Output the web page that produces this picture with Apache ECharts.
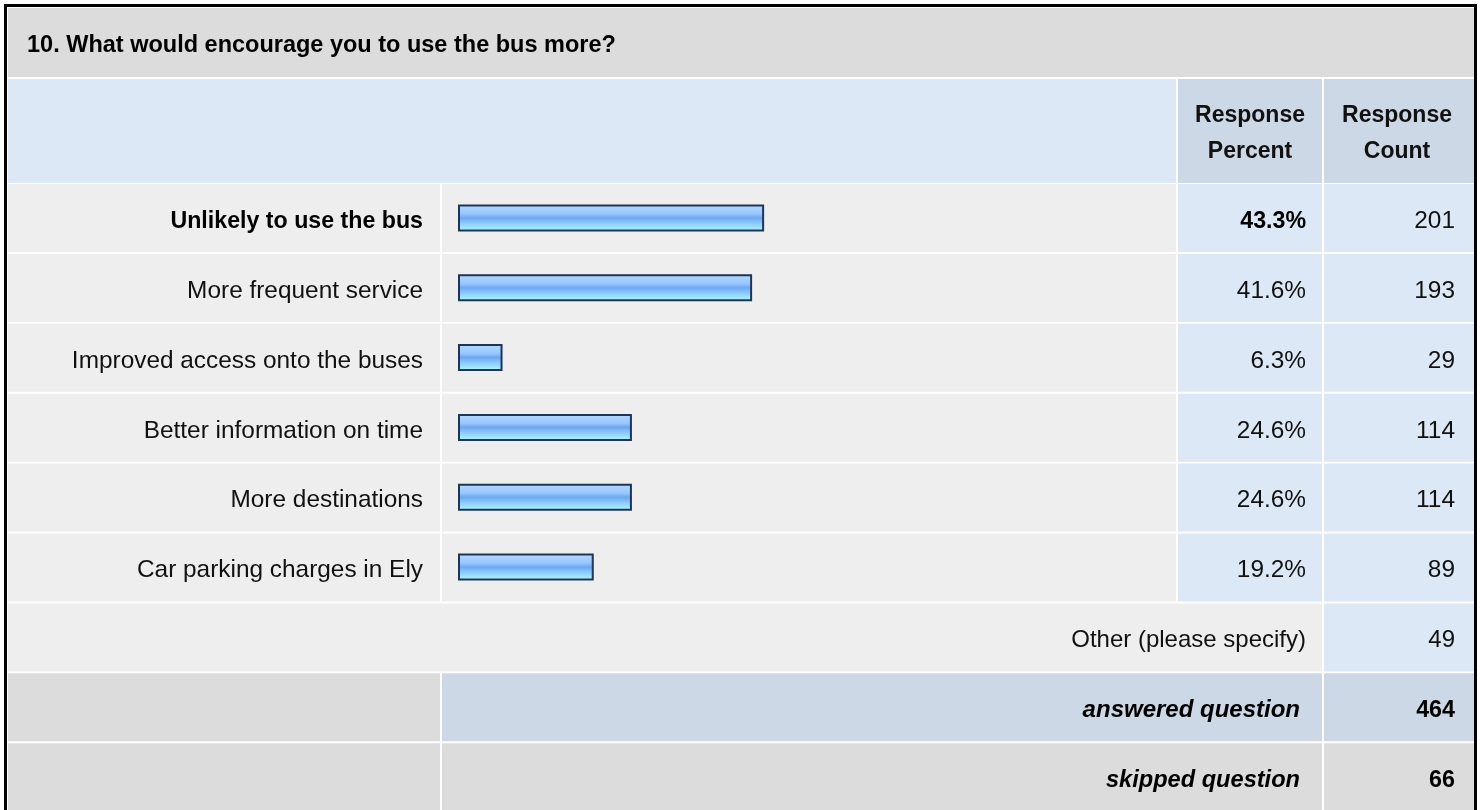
<!DOCTYPE html>
<html>
<head>
<meta charset="utf-8">
<title>10. What would encourage you to use the bus more?</title>
<script src="https://cdn.jsdelivr.net/npm/echarts@6/dist/echarts.min.js"></script>
<style>
  html, body { margin: 0; padding: 0; background: #fff; }
  #chart { width: 1480px; height: 810px; }
</style>
</head>
<body>
<div id="chart"></div>
<script>
// survey data
const question = '10. What would encourage you to use the bus more?';
const categories = [
  'Unlikely to use the bus',
  'More frequent service',
  'Improved access onto the buses',
  'Better information on time',
  'More destinations',
  'Car parking charges in Ely'
];
const percents = [43.3, 41.6, 6.3, 24.6, 24.6, 19.2];
const counts = [201, 193, 29, 114, 114, 89];
const headerCols = ['Response\nPercent', 'Response\nCount'];
const footerLabels = ['Other (please specify)', 'answered question', 'skipped question'];
const footerCounts = [49, 464, 66];

const FONT = 'Liberation Sans, Arial, sans-serif';

// table layout (cell backgrounds only)
const colX = [8, 442, 1178, 1324];
const colR = [440, 1176, 1322, 1474];
const rowTop = i => 184 + i * 69.9;
const rowH = 68;

function rect(x, y, w, h, fill) {
  return { type: 'rect', shape: { x: x, y: y, width: w, height: h }, style: { fill: fill }, z: -10, silent: true };
}
function text(str, x, y, align, opts) {
  return {
    type: 'text', x: x, y: y, z: 10, silent: true,
    style: Object.assign({
      text: str, align: align, verticalAlign: 'middle',
      font: '24px ' + FONT, fill: '#111'
    }, opts || {})
  };
}

const cells = [];
// title + header
cells.push(rect(8, 8, 1466, 69, '#dcdcdc'));
cells.push(rect(8, 79, 1168, 104, '#dce8f5'));
cells.push(rect(colX[2], 79, colR[2] - colX[2], 104, '#ccd8e5'));
cells.push(rect(colX[3], 79, colR[3] - colX[3], 104, '#ccd8e5'));
// data rows
categories.forEach((c, i) => {
  const y = rowTop(i);
  cells.push(rect(colX[0], y, colR[0] - colX[0], rowH, '#eeeeee'));
  cells.push(rect(colX[1], y, colR[1] - colX[1], rowH, '#eeeeee'));
  cells.push(rect(colX[2], y, colR[2] - colX[2], rowH, '#dce8f5'));
  cells.push(rect(colX[3], y, colR[3] - colX[3], rowH, '#dce8f5'));
});
// other row
let y6 = rowTop(6);
cells.push(rect(colX[0], y6, colR[2] - colX[0], rowH, '#eeeeee'));
cells.push(rect(colX[3], y6, colR[3] - colX[3], rowH, '#dce8f5'));
// answered
let y7 = rowTop(7);
cells.push(rect(colX[0], y7, colR[0] - colX[0], rowH, '#dcdcdc'));
cells.push(rect(colX[1], y7, colR[2] - colX[1], rowH, '#ccd8e5'));
cells.push(rect(colX[3], y7, colR[3] - colX[3], rowH, '#ccd8e5'));
// skipped
let y8 = rowTop(8);
cells.push(rect(colX[0], y8, colR[0] - colX[0], rowH + 10, '#dcdcdc'));
cells.push(rect(colX[1], y8, colR[2] - colX[1], rowH + 10, '#dcdcdc'));
cells.push(rect(colX[3], y8, colR[3] - colX[3], rowH + 10, '#dcdcdc'));
// outer frame
cells.push({ type: 'rect', shape: { x: 5.5, y: 5.5, width: 1470, height: 820 }, style: { fill: 'none', stroke: '#000', lineWidth: 3 }, z: 20, silent: true });

// texts
cells.push(text(question, 27, 46, 'left', { font: 'bold 23.5px ' + FONT, fill: '#000' }));
cells.push(text(headerCols[0], 1250, 134, 'center', { font: 'bold 23px ' + FONT, fill: '#111', lineHeight: 36 }));
cells.push(text(headerCols[1], 1397, 134, 'center', { font: 'bold 23px ' + FONT, fill: '#111', lineHeight: 36 }));
cells.push(text(footerLabels[0], 1306, y6 + 37, 'right'));
cells.push(text(String(footerCounts[0]), 1455, y6 + 37, 'right'));
cells.push(text(footerLabels[1], 1300, y7 + 37, 'right', { font: 'italic bold 24px ' + FONT, fill: '#000' }));
cells.push(text(String(footerCounts[1]), 1455, y7 + 37, 'right', { font: 'bold 23.3px ' + FONT, fill: '#000' }));
cells.push(text(footerLabels[2], 1300, y8 + 37, 'right', { font: 'italic bold 23.6px ' + FONT, fill: '#000' }));
cells.push(text(String(footerCounts[2]), 1455, y8 + 37, 'right', { font: 'bold 23.3px ' + FONT, fill: '#000' }));

const labelRich = {
  b: { fontFamily: FONT, fontSize: 23.2, fontWeight: 'bold', color: '#000', padding: [7, 0, 0, 0] },
  n: { fontFamily: FONT, fontSize: 24.4, color: '#111', padding: [7, 0, 0, 0] }
};
const pick = (str, i) => (i === 0 ? '{b|' : '{n|') + str + '}';

const option = {
  animation: false,
  backgroundColor: '#fff',
  graphic: { elements: cells },
  grid: { left: 458, top: 183, width: 707, height: 419, containLabel: false },
  xAxis: {
    type: 'value', min: 0, max: 100, show: false
  },
  yAxis: [
    {
      type: 'category', data: categories, inverse: true,
      axisLine: { show: false }, axisTick: { show: false },
      axisLabel: { margin: 35, formatter: (v, i) => pick(v, i), rich: labelRich }
    },
    {
      type: 'category', data: categories, inverse: true, position: 'right', offset: 141,
      axisLine: { show: false }, axisTick: { show: false },
      axisLabel: { margin: 0, align: 'right', formatter: (v, i) => pick(percents[i].toFixed(1) + '%', i), rich: labelRich }
    },
    {
      type: 'category', data: categories, inverse: true, position: 'right', offset: 290,
      axisLine: { show: false }, axisTick: { show: false },
      axisLabel: { margin: 0, align: 'right', formatter: (v, i) => '{n|' + counts[i] + '}', rich: labelRich }
    }
  ],
  series: [{
    type: 'bar',
    data: percents,
    barWidth: 27,
    itemStyle: {
      borderColor: '#1f3556',
      borderWidth: 2,
      color: new echarts.graphic.LinearGradient(0, 0, 0, 1, [
        { offset: 0, color: '#b6dcff' },
        { offset: 0.35, color: '#96c6ff' },
        { offset: 0.5, color: '#6ea8ef' },
        { offset: 0.7, color: '#8ccaff' },
        { offset: 1, color: '#b2fcff' }
      ])
    }
  }]
};

const myChart = echarts.init(document.getElementById('chart'));
myChart.setOption(option);
window.addEventListener('resize', () => {
  myChart.resize();
});
</script>
</body>
</html>
